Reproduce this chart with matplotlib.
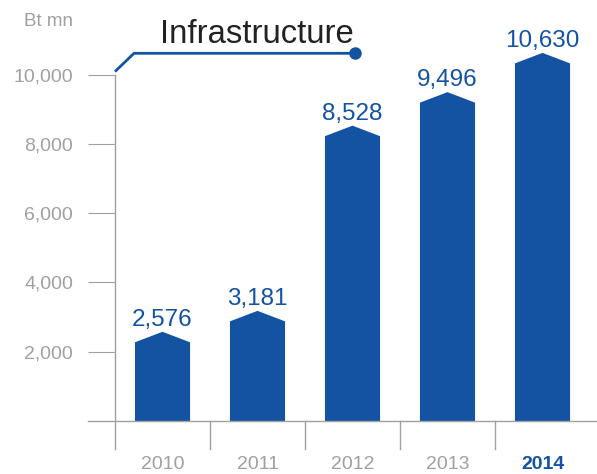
import matplotlib.pyplot as plt
from matplotlib.patches import Polygon

years = ["2010", "2011", "2012", "2013", "2014"]
values = [2576, 3181, 8528, 9496, 10630]
yticks = [2000, 4000, 6000, 8000, 10000]

blue = "#1353a2"
grey = "#a0a0a0"
plt.rcParams["font.family"] = ["Liberation Sans", "DejaVu Sans"]

fig = plt.figure(figsize=(5.97, 4.74), dpi=100)
# px per unit: (421 - 74.7) / 10000
ppu = 0.03463
top_units = 11500
ax = fig.add_axes([115 / 597, 53 / 474, 475 / 597, top_units * ppu / 474])
ax.set_xlim(0, 5)
ax.set_ylim(0, top_units)
for s in ax.spines.values():
    s.set_visible(False)

# pointed bars
w = 0.58
peak = 10.5 / ppu
for i, v in enumerate(values):
    c = i + 0.5
    pts = [(c - w / 2, 0), (c - w / 2, v - peak), (c, v), (c + w / 2, v - peak), (c + w / 2, 0)]
    ax.add_patch(Polygon(pts, closed=True, facecolor=blue, edgecolor="none"))
    ax.text(c, v + 6 / ppu, f"{v:,}", ha="center", va="baseline",
            fontsize=17.5, color=blue)

# axis lines
below = -28 / ppu
tick_left = -27 / 95
ax.plot([0, 0], [below, 10000], color=grey, lw=1, clip_on=False)
ax.plot([tick_left, 482 / 95], [0, 0], color=grey, lw=1, clip_on=False)
for x in range(1, 5):
    ax.plot([x, x], [below, 0], color=grey, lw=1, clip_on=False)

ax.set_yticks(yticks)
ax.set_yticklabels([f"{t:,}" for t in yticks])
ax.tick_params(axis="y", length=19.4, width=0.8, color=grey, pad=10.8,
               labelsize=14, labelcolor=grey)
ax.set_xticks([i + 0.5 for i in range(5)])
ax.set_xticklabels(years)
ax.tick_params(axis="x", length=0, pad=25, labelsize=14, labelcolor=grey)
lab = ax.get_xticklabels()[-1]
lab.set_color(blue)
lab.set_fontweight("bold")

# title with leader line
ly = (421 - 53.3) / ppu
ax.plot([0, 0.2, 2.526], [10000 + 90, ly, ly], color=blue, lw=2,
        clip_on=False, solid_capstyle="butt")
ax.plot([2.526], [ly], "o", color=blue, ms=8, clip_on=False)
ax.text(1.49, (421 - 43.3) / ppu, "Infrastructure", ha="center", va="baseline",
        fontsize=23.7, color="#222222")

fig.text(49 / 597, 1 - 22 / 474, "Bt mn", ha="center", va="center",
         fontsize=13.6, color=grey)

fig.savefig("out.png", dpi=100)
